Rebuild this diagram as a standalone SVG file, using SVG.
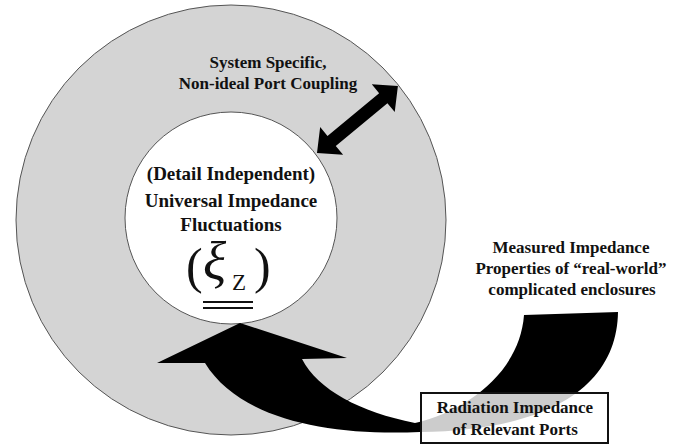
<svg xmlns="http://www.w3.org/2000/svg" width="686" height="447" viewBox="0 0 686 447">
  <style>
    .lbl { font-family: "Liberation Serif", "Times New Roman", serif; font-weight: bold; font-size: 17px; fill: #111; text-anchor: middle; }
    .core { font-size: 19px; }
    .ring { fill: #d4d4d4; stroke: #555; stroke-width: 1; }
    .inner { fill: #fff; stroke: #555; stroke-width: 1; }
    .math { font-family: "Liberation Serif", "DejaVu Serif", serif; fill: #111; }
  </style>

  <!-- outer ring: system specific coupling -->
  <g id="outer-ring">
    <circle class="ring" cx="231" cy="220" r="215"/>
    <text class="lbl" x="268" y="68">System Specific,</text>
    <text class="lbl" x="268" y="89">Non-ideal Port Coupling</text>
  </g>

  <!-- inner disc: universal fluctuations -->
  <g id="universal-core">
    <circle class="inner" cx="231" cy="218" r="106"/>
    <text class="lbl core" x="231" y="180">(Detail Independent)</text>
    <text class="lbl core" x="231" y="207">Universal Impedance</text>
    <text class="lbl core" x="231" y="231">Fluctuations</text>
    <text class="math" x="186" y="283" font-size="50">(</text>
    <text class="math" x="203" y="280" font-size="54" font-style="italic">ξ</text>
    <text class="math" x="232" y="290" font-size="23">Z</text>
    <text class="math" x="254" y="283" font-size="50">)</text>
    <line x1="203" y1="302" x2="253" y2="302" stroke="#111" stroke-width="2"/>
    <line x1="203" y1="308" x2="253" y2="308" stroke="#111" stroke-width="2"/>
  </g>

  <!-- measured properties label -->
  <g id="measured">
    <text class="lbl" x="571" y="253">Measured Impedance</text>
    <text class="lbl" x="571" y="274">Properties of “real-world”</text>
    <text class="lbl" x="572" y="295">complicated enclosures</text>
  </g>

  <g id="connectors">
    <!-- double-headed coupling arrow -->
    <polygon fill="#000" transform="translate(317,153) rotate(-39.6)"
      points="0,0 19,-18 19,-6.5 86,-6.5 86,-18 105,0 86,18 86,6.5 19,6.5 19,18"/>
    <!-- broad curved arrow from measured data into the core -->
    <path fill="#000" d="M240,323 L347,358 L302,359 C318,390 360,412 415,423 C470,410 520,370 524,315 L618,312 C617,380 560,430 420,432 C330,436 240,420 205,363 L157,363 Z"/>
  </g>

  <!-- radiation impedance box (translucent over the arrow) -->
  <g id="radiation-box">
    <rect x="421" y="393" width="187" height="50" fill="#fff" fill-opacity="0.8" stroke="#111" stroke-width="2"/>
    <text class="lbl" x="515" y="413">Radiation Impedance</text>
    <text class="lbl" x="515" y="435">of Relevant Ports</text>
  </g>
</svg>
